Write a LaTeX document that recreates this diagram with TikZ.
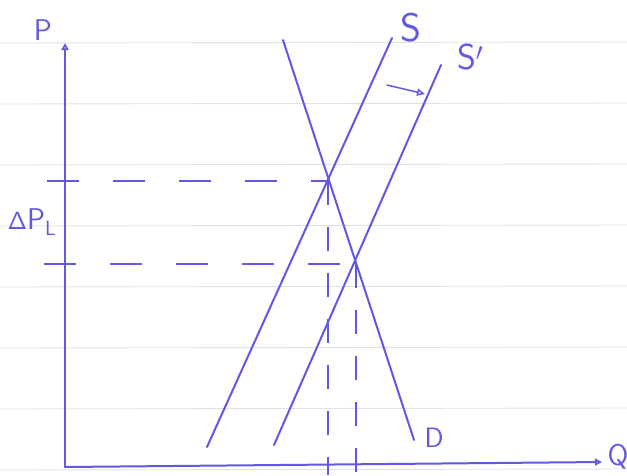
\documentclass[tikz,border=0pt]{standalone}
\usepackage{tikz}
\usetikzlibrary{
  arrows.meta,
  calc,
  positioning
}
\definecolor{pen}{RGB}{98,88,226}
\definecolor{ruling}{RGB}{224,227,230}
\tikzset{
  pencurve/.style={draw=pen, line width=2pt, line cap=round},
  guide/.style={draw=pen, line width=1.3pt, dash pattern=on 32pt off 34pt},
  vguide/.style={guide, dash pattern=on 24pt off 22pt},
  hand/.style={text=pen, font=\sffamily\fontsize{34}{36}\selectfont, inner sep=0pt}
}
\begin{document}
\begin{tikzpicture}[x=1pt, y=-1pt]
  \useasboundingbox (0,0) rectangle (627,475);
  \fill[white] (0,0) rectangle (627,475);
  % ruled paper
  \foreach \yy in {43,104,165,226,287,348,409,470}
    \draw[ruling, line width=0.9pt] (0,\yy) -- (627,\yy-1);
  % scribbles cut off at the top edge
  \draw[pen, line width=1.5pt] (296,-1) arc (180:360:4 and 4.5);
  \draw[pen, line width=1.5pt] (569,-1) arc (180:360:3.5 and 4.5);

  % axes
  \coordinate (origin) at (65,467);
  \coordinate (ptop) at (65,43);
  \coordinate (qend) at (602,462);
  \draw[pencurve, -{Triangle[open, length=7pt, width=7pt]}] (origin) -- (ptop);
  \draw[pencurve, -{Triangle[open, length=7pt, width=7pt]}] (origin) -- (qend);
  \node[hand, font=\sffamily\fontsize{30}{32}\selectfont] (plabel) at (43,30) {P};
  \node[hand, font=\sffamily\fontsize{30}{32}\selectfont] (qlabel) at (618,457) {Q};

  % curves
  \coordinate (s0) at (207,447);  \coordinate (s1) at (392,38);
  \coordinate (t0) at (274,445);  \coordinate (t1) at (441,65);
  \coordinate (d0) at (283,40);   \coordinate (d1) at (414,440);
  \draw[pencurve] (s0) -- (s1);
  \draw[pencurve] (t0) -- (t1);
  \draw[pencurve] (d0) -- (d1);
  \node[hand, font=\sffamily\fontsize{40}{42}\selectfont] (slabel) at (411,28) {S};
  \node[hand, font=\sffamily\fontsize{36}{38}\selectfont, anchor=west] (tlabel) at (457,57) {S$^{\prime}$};
  \node[hand, font=\sffamily\fontsize{28}{30}\selectfont] (dlabel) at (434,438) {D};

  % shift arrow
  \coordinate (shift0) at (387,85);
  \coordinate (shift1) at (425,94);
  \draw[pencurve, line width=1.5pt, -{Triangle[open, length=8pt, width=7pt]}] (shift0) -- (shift1);

  % equilibria
  \coordinate (e1) at (328,181);
  \coordinate (e2) at (356,264);
  \coordinate (h1) at (47,181);
  \coordinate (h2) at (44,264);
  \coordinate (v1) at (328,475);
  \coordinate (v2) at (356,475);
  \draw[guide] (h1) -- (e1);
  \draw[guide] (h2) -- (e2);
  \draw[vguide] (e1) -- (v1);
  \draw[vguide] (e2) -- (v2);
  \node[hand, font=\sffamily\fontsize{30}{32}\selectfont] (dpl) at (32,222) {$\mathsf{\Delta}$P$_{\mathsf{L}}$};
\end{tikzpicture}
\end{document}
